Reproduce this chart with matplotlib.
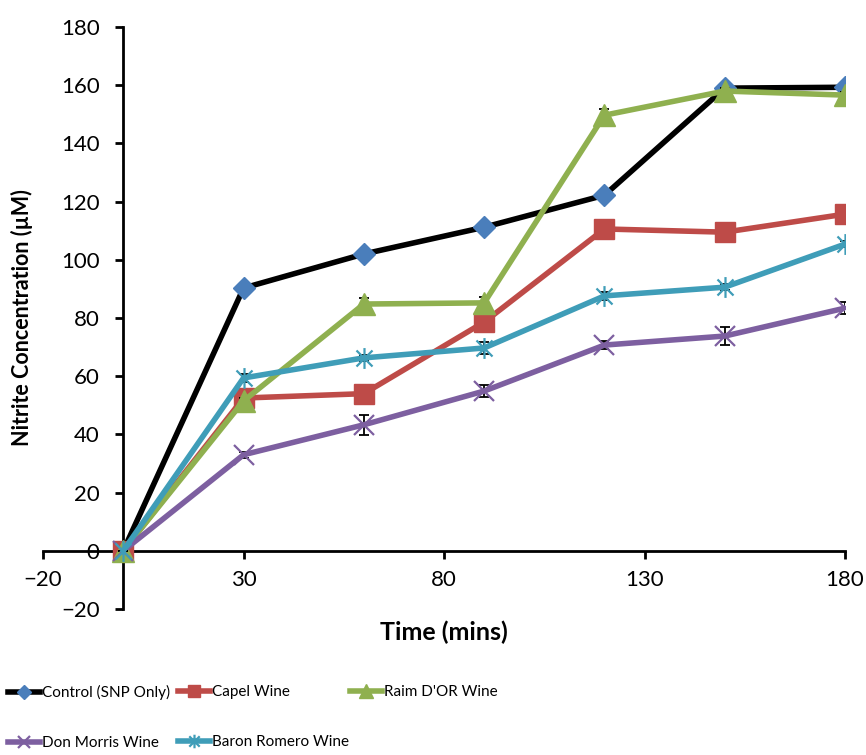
import matplotlib.pyplot as plt
from matplotlib.path import Path

plt.rcParams['font.family'] = ['Lato', 'DejaVu Sans']

# time points (mins)
time = [0, 30, 60, 90, 120, 150, 180]

# nitrite concentration (uM) per series, with rough error values
control = [0, 90.3, 102, 111.2, 122.2, 159, 159.3]
control_err = [0, 1, 1, 1, 1.2, 1, 1]
capel = [0, 52.5, 54, 78.6, 110.6, 109.5, 115.7]
capel_err = [0, 1, 1, 1.5, 1.5, 1, 1]
raim = [0, 51.5, 84.8, 85.2, 149.7, 158, 156.6]
raim_err = [0, 1, 2, 2, 2, 1, 1]
don = [0, 33, 43.3, 54.9, 70.7, 73.8, 83.4]
don_err = [0, 1, 3.5, 2, 1.5, 3, 2]
baron = [0, 59.4, 66.3, 69.7, 87.6, 90.6, 105.4]
baron_err = [0, 1.5, 1, 2, 1.5, 1, 1]

labels = ['Control (SNP Only)', 'Capel Wine', "Raim D'OR Wine",
          'Don Morris Wine', 'Baron Romero Wine']

# asterisk marker: x with vertical line
star = Path([(-1, -1), (1, 1), (-1, 1), (1, -1), (0, -1.3), (0, 1.3)],
            [Path.MOVETO, Path.LINETO, Path.MOVETO, Path.LINETO,
             Path.MOVETO, Path.LINETO])

styles = [
    dict(color='black', marker='D', mfc='#4a7ebb', mec='#4a7ebb', ms=11),
    dict(color='#be4b48', marker='s', mfc='#be4b48', mec='#be4b48', ms=14),
    dict(color='#8fb04f', marker='^', mfc='#8fb04f', mec='#8fb04f', ms=16),
    dict(color='#7d5fa0', marker='x', mfc='none', mec='#7d5fa0', ms=14, mew=1.6),
    dict(color='#3f9db8', marker=star, mfc='none', mec='#3f9db8', ms=15, mew=1.6),
]
series = [control, capel, raim, don, baron]
errors = [control_err, capel_err, raim_err, don_err, baron_err]

fig = plt.figure(figsize=(8.66, 7.55), dpi=100)
ax = fig.add_axes([0.0497, 0.1934, 0.9261, 0.7708])

handles = []
for i, (vals, err, st) in enumerate(zip(series, errors, styles)):
    ax.errorbar(time, vals, yerr=err, fmt='none', ecolor='black',
                elinewidth=1.3, capsize=3.5, capthick=1.3, zorder=2 + i)
    h, = ax.plot(time, vals, lw=4, zorder=2.5 + i, label=labels[i], **st)
    handles.append(h)

ax.set_xlim(-20, 180)
ax.set_ylim(-20, 180)
ax.set_xticks([-20, 30, 80, 130, 180])
ax.set_yticks(range(-20, 181, 20))
ax.spines['left'].set_position(('data', 0))
ax.spines['bottom'].set_position(('data', 0))
ax.spines['top'].set_visible(False)
ax.spines['right'].set_visible(False)
for s in ['left', 'bottom']:
    ax.spines[s].set_linewidth(2)
ax.tick_params(width=2, length=6, labelsize=16, direction='out')
ax.tick_params(axis='y', pad=11)
ax.tick_params(axis='x', pad=8)

fig.text(444 / 866, 1 - 632 / 755, 'Time (mins)', fontsize=18,
         fontweight='bold', ha='center', va='center')
fig.text(22 / 866, 1 - 318 / 755, 'Nitrite Concentration (µM)', fontsize=15.5,
         fontweight='bold', ha='center', va='center', rotation=90)

# legend in three columns, placed like the original
cols = [([handles[0], handles[3]], 8),
        ([handles[1], handles[4]], 178),
        ([handles[2]], 350)]
for hs, x in cols:
    fig.legend(handles=hs, loc='upper left',
               bbox_to_anchor=(x / 866, 1 - 685 / 755),
               frameon=False, fontsize=11, handlelength=2.1,
               handletextpad=0.15, labelspacing=2.35, borderpad=0,
               borderaxespad=0, markerscale=0.65)

fig.savefig('out.png', dpi=100)
